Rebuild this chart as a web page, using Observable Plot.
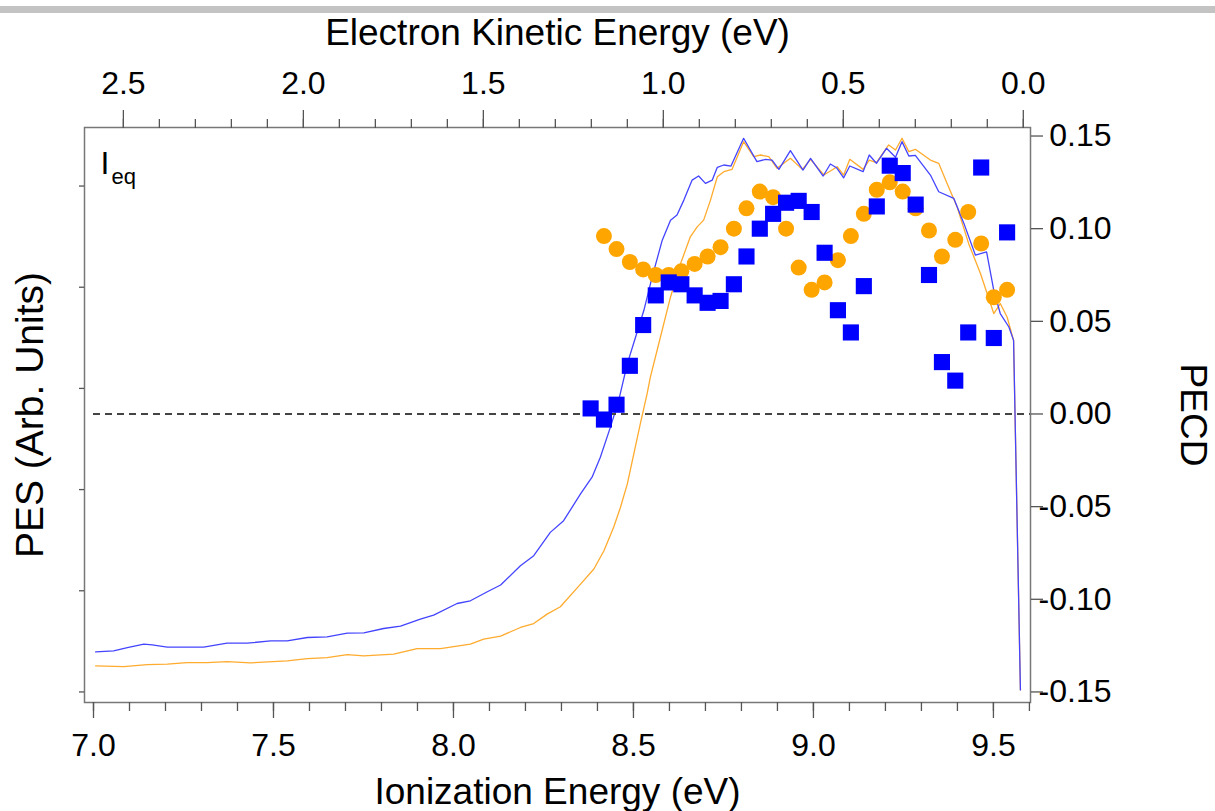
<!DOCTYPE html>
<html><head><meta charset="utf-8">
<script src="https://cdn.jsdelivr.net/npm/d3@7"></script>
<script src="https://cdn.jsdelivr.net/npm/@observablehq/plot@0.6"></script>
<style>
html,body{margin:0;padding:0;background:#fff;}
#wrap{position:relative;width:1215px;height:811px;overflow:hidden;}
#bar{position:absolute;left:0;top:6px;width:1215px;height:7px;background:#c3c3c3;z-index:2;}
</style></head><body><div id="wrap"></div>
<script>
// ---------- data ----------
const E0 = 9.583; // ionization energy at zero electron kinetic energy (eV)

// PECD points (ionization energy grid, eV)
const pecdIE = [8.381, 8.418, 8.453, 8.490, 8.527, 8.562, 8.598, 8.633, 8.670, 8.706, 8.742, 8.779, 8.814, 8.851, 8.888, 8.924, 8.959, 8.995, 9.031, 9.068, 9.104, 9.140, 9.176, 9.212, 9.248, 9.284, 9.321, 9.357, 9.394, 9.430, 9.466, 9.501, 9.538];
const pecdBlue = [0.003, -0.003, 0.005, 0.026, 0.048, 0.064, 0.071, 0.070, 0.064, 0.060, 0.061, 0.070, 0.085, 0.100, 0.108, 0.114, 0.115, 0.109, 0.087, 0.056, 0.044, 0.069, 0.112, 0.134, 0.130, 0.113, 0.075, 0.028, 0.018, 0.044, 0.133, 0.041, 0.098];
const pecdOrangeIE = pecdIE.slice(1);
const pecdOrange = [0.096, 0.089, 0.082, 0.078, 0.075, 0.075, 0.077, 0.081, 0.085, 0.090, 0.100, 0.111, 0.120, 0.117, 0.100, 0.079, 0.067, 0.071, 0.083, 0.096, 0.108, 0.121, 0.125, 0.120, 0.111, 0.099, 0.085, 0.094, 0.109, 0.092, 0.063, 0.067];

// PES spectra (arbitrary units)
const pesBlueIE = [7.006, 7.056, 7.094, 7.140, 7.163, 7.205, 7.306, 7.371, 7.427, 7.492, 7.538, 7.594, 7.649, 7.705, 7.751, 7.806, 7.853, 7.908, 7.945, 8.010, 8.047, 8.094, 8.131, 8.186, 8.223, 8.269, 8.306, 8.353, 8.385, 8.408, 8.436, 8.459, 8.483, 8.506, 8.529, 8.552, 8.580, 8.603, 8.621, 8.640, 8.663, 8.681, 8.700, 8.719, 8.733, 8.751, 8.771, 8.806, 8.843, 8.867, 8.885, 8.904, 8.936, 8.971, 8.992, 9.027, 9.047, 9.064, 9.084, 9.101, 9.138, 9.155, 9.175, 9.203, 9.228, 9.246, 9.265, 9.283, 9.325, 9.348, 9.390, 9.418, 9.450, 9.481, 9.501, 9.519, 9.543, 9.556, 9.575];
const pesBlue = [0.396, 0.406, 0.439, 0.472, 0.465, 0.443, 0.443, 0.482, 0.482, 0.505, 0.505, 0.538, 0.545, 0.581, 0.584, 0.627, 0.650, 0.720, 0.759, 0.874, 0.901, 0.990, 1.057, 1.248, 1.347, 1.577, 1.693, 1.957, 2.122, 2.320, 2.617, 2.881, 3.245, 3.508, 3.772, 4.102, 4.465, 4.663, 4.713, 4.861, 5.059, 5.099, 5.027, 5.059, 5.185, 5.208, 5.198, 5.472, 5.241, 5.264, 5.257, 5.165, 5.350, 5.158, 5.274, 5.099, 5.218, 5.181, 5.082, 5.198, 5.142, 5.307, 5.225, 5.373, 5.284, 5.439, 5.297, 5.304, 5.109, 4.944, 4.878, 4.631, 4.317, 4.350, 3.970, 3.740, 3.607, 3.475, 0.020];
const pesOrangeIE = [7.006, 7.084, 7.149, 7.205, 7.260, 7.316, 7.371, 7.436, 7.538, 7.594, 7.649, 7.705, 7.751, 7.834, 7.899, 7.964, 8.047, 8.084, 8.131, 8.186, 8.223, 8.260, 8.297, 8.353, 8.390, 8.418, 8.445, 8.464, 8.483, 8.501, 8.519, 8.538, 8.547, 8.575, 8.603, 8.631, 8.658, 8.677, 8.695, 8.714, 8.733, 8.751, 8.774, 8.806, 8.834, 8.853, 8.876, 8.899, 8.936, 8.969, 8.992, 9.029, 9.066, 9.084, 9.101, 9.138, 9.155, 9.175, 9.209, 9.228, 9.246, 9.265, 9.283, 9.325, 9.348, 9.371, 9.399, 9.431, 9.464, 9.501, 9.519, 9.538, 9.556, 9.575];
const pesOrange = [0.257, 0.250, 0.270, 0.274, 0.290, 0.290, 0.300, 0.287, 0.307, 0.330, 0.340, 0.369, 0.356, 0.373, 0.429, 0.429, 0.472, 0.522, 0.552, 0.637, 0.676, 0.769, 0.842, 1.066, 1.215, 1.396, 1.627, 1.825, 2.056, 2.353, 2.650, 2.948, 3.112, 3.508, 3.904, 4.235, 4.498, 4.597, 4.663, 4.861, 5.092, 5.142, 5.165, 5.439, 5.290, 5.307, 5.290, 5.175, 5.274, 5.165, 5.264, 5.109, 5.191, 5.109, 5.264, 5.165, 5.257, 5.231, 5.406, 5.356, 5.472, 5.340, 5.363, 5.257, 5.225, 5.027, 4.795, 4.433, 4.136, 3.740, 3.839, 3.706, 3.475, 0.020];

// ticks
const ieMajorTicks = [7.0, 7.5, 8.0, 8.5, 9.0, 9.5];
const ieMinorTicks = [7.0, 7.1, 7.2, 7.3, 7.4, 7.5, 7.6, 7.7, 7.8, 7.9, 8.0, 8.1, 8.2, 8.3, 8.4, 8.5, 8.6, 8.7, 8.8, 8.9, 9.0, 9.1, 9.2, 9.3, 9.4, 9.5, 9.6];
const keMajorTicks = [2.5, 2.0, 1.5, 1.0, 0.5, 0.0];
const keMinorTicks = [2.5, 2.4, 2.3, 2.2, 2.1, 2.0, 1.9, 1.8, 1.7, 1.6, 1.5, 1.4, 1.3, 1.2, 1.1, 1.0, 0.9, 0.8, 0.7, 0.6, 0.5, 0.4, 0.3, 0.2, 0.1, 0.0];
const pecdTicks = [-0.15, -0.10, -0.05, 0.00, 0.05, 0.10, 0.15];
const pesTicks = [0, 1, 2, 3, 4, 5];

// ---------- build ----------
const FONT = "'Liberation Sans', Arial, Helvetica, sans-serif";
const pesToY = p => -0.15 + p * 0.0546; // PES (arb.) mapped onto the PECD axis
const blueLine = pesBlueIE.map((ie, i) => ({ie, y: pesToY(pesBlue[i])}));
const orangeLine = pesOrangeIE.map((ie, i) => ({ie, y: pesToY(pesOrange[i])}));
const bluePts = pecdIE.map((ie, i) => ({ie, v: pecdBlue[i]}));
const orangePts = pecdOrangeIE.map((ie, i) => ({ie, v: pecdOrange[i]}));
const tickColor = "#555";

const chart = Plot.plot({
  width: 1215, height: 811,
  marginTop: 127, marginBottom: 109, marginLeft: 84, marginRight: 185,
  style: {fontFamily: FONT, background: "white", color: "black"},
  x: {domain: [6.975, 9.603], axis: null},
  y: {domain: [-0.1557, 0.1546], axis: null},
  marks: [
    Plot.line(orangeLine, {x: "ie", y: "y", stroke: "#ffab2e", strokeWidth: 1.3}),
    Plot.line(blueLine, {x: "ie", y: "y", stroke: "#4444ff", strokeWidth: 1.3}),
    Plot.ruleY([0], {x1: 7.0, x2: 9.603, stroke: "#444", strokeWidth: 2, strokeDasharray: "7,5"}),
    Plot.dot(orangePts, {x: "ie", y: "v", r: 8, fill: "#ffa500", symbol: "circle"}),
    Plot.dot(bluePts, {x: "ie", y: "v", r: 9.1, fill: "#0000ff", symbol: "square"}),
    Plot.frame({stroke: "#777", strokeWidth: 1.5}),
    // bottom axis: ionization energy
    Plot.axisX({anchor: "bottom", ticks: ieMajorTicks, tickSize: 16, tickPadding: 15, tickFormat: d => d.toFixed(1), fontSize: 32, stroke: tickColor, fill: "black", strokeWidth: 1.3, label: null}),
    Plot.axisX({anchor: "bottom", ticks: ieMinorTicks, tickSize: 9, tickFormat: () => "", stroke: tickColor, strokeWidth: 1.3, label: null}),
    // top axis: electron kinetic energy
    Plot.axisX({anchor: "top", ticks: keMajorTicks.map(k => E0 - k), tickSize: 18, tickPadding: 16, tickFormat: d => Math.abs(E0 - d).toFixed(1), fontSize: 32, stroke: tickColor, fill: "black", strokeWidth: 1.3, label: null}),
    Plot.axisX({anchor: "top", ticks: keMinorTicks.map(k => E0 - k), tickSize: 9, tickFormat: () => "", stroke: tickColor, strokeWidth: 1.3, label: null}),
    // right axis: PECD
    Plot.axisY({anchor: "right", ticks: pecdTicks, tickSize: 12, tickPadding: 69, textAnchor: "end", tickFormat: d => d.toFixed(2), fontSize: 32, stroke: tickColor, fill: "black", strokeWidth: 1.3, label: null}),
    // left axis: PES (no labels)
    Plot.axisY({anchor: "left", ticks: pesTicks.map(pesToY), tickSize: 5, tickFormat: () => "", stroke: tickColor, strokeWidth: 1.3, label: null}),
    // titles
    Plot.text(["Electron Kinetic Energy (eV)"], {text: d => d, frameAnchor: "top", dy: -94, textAnchor: "middle", lineAnchor: "middle", fontSize: 37, fill: "black"}),
    Plot.text(["Ionization Energy (eV)"], {text: d => d, frameAnchor: "bottom", dy: 90, textAnchor: "middle", lineAnchor: "middle", fontSize: 37, fill: "black"}),
    Plot.text(["PES (Arb. Units)"], {text: d => d, frameAnchor: "left", dx: -54, dy: 0, rotate: -90, textAnchor: "middle", lineAnchor: "middle", fontSize: 39, fill: "black"}),
    Plot.text(["PECD"], {text: d => d, frameAnchor: "right", dx: 162, rotate: 90, textAnchor: "middle", lineAnchor: "middle", fontSize: 37, fill: "black"}),
    Plot.text(["I"], {text: d => d, frameAnchor: "top-left", dx: 16, dy: 36, textAnchor: "start", lineAnchor: "middle", fontSize: 32, fill: "black"}),
    Plot.text(["eq"], {text: d => d, frameAnchor: "top-left", dx: 27, dy: 49, textAnchor: "start", lineAnchor: "middle", fontSize: 22, fill: "black"})
  ]
});
const wrap = document.getElementById("wrap");
wrap.append(chart);
const bar = document.createElement("div");
bar.id = "bar";
wrap.append(bar);
</script>
</body></html>
